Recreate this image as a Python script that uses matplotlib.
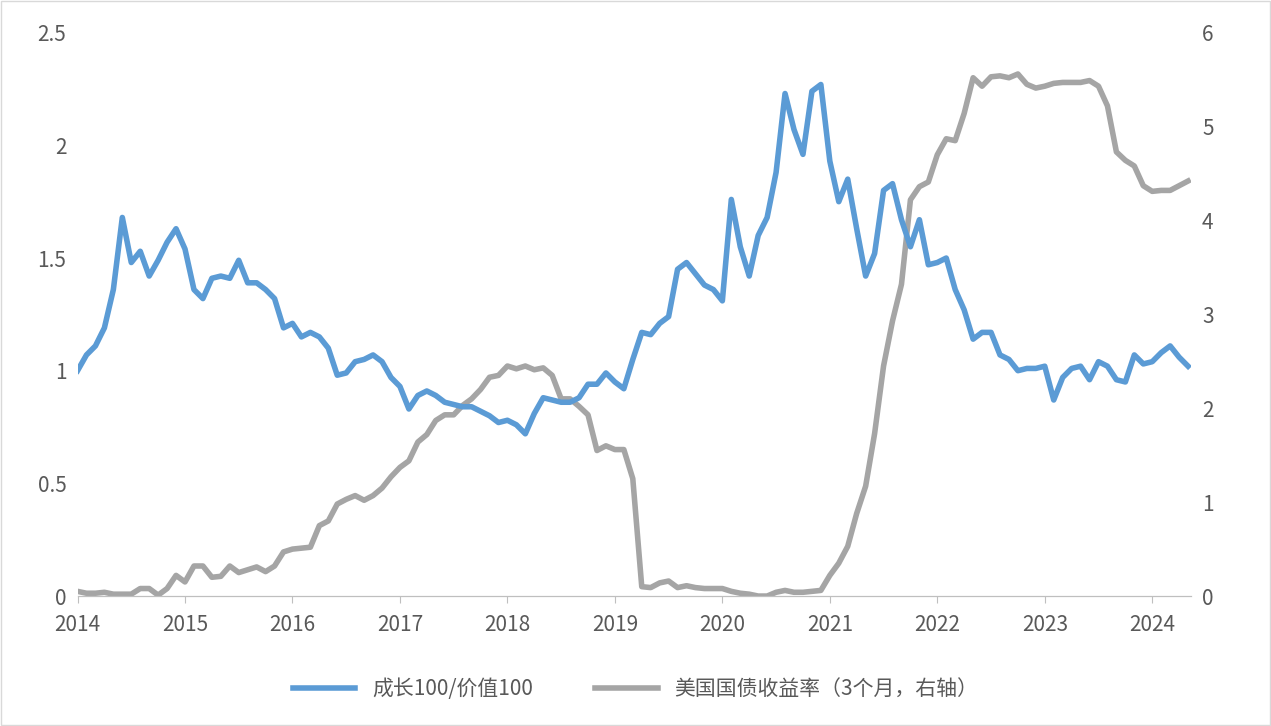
import numpy as np
import matplotlib.pyplot as plt

plt.rcParams['font.family'] = ['Noto Sans CJK SC', 'DejaVu Sans']

# growth100 / value100, monthly from Jan 2014
ratio = [1.00, 1.07, 1.11, 1.19, 1.36, 1.68, 1.48, 1.53, 1.42, 1.49, 1.57, 1.63,
         1.54, 1.36, 1.32, 1.41, 1.42, 1.41, 1.49, 1.39, 1.39, 1.36, 1.32, 1.19,
         1.21, 1.15, 1.17, 1.15, 1.10, 0.98, 0.99, 1.04, 1.05, 1.07, 1.04, 0.97,
         0.93, 0.83, 0.89, 0.91, 0.89, 0.86, 0.85, 0.84, 0.84, 0.82, 0.80, 0.77,
         0.78, 0.76, 0.72, 0.81, 0.88, 0.87, 0.86, 0.86, 0.88, 0.94, 0.94, 0.99,
         0.95, 0.92, 1.05, 1.17, 1.16, 1.21, 1.24, 1.45, 1.48, 1.43, 1.38, 1.36,
         1.31, 1.76, 1.55, 1.42, 1.60, 1.68, 1.88, 2.23, 2.07, 1.96, 2.24, 2.27,
         1.93, 1.75, 1.85, 1.63, 1.42, 1.52, 1.80, 1.83, 1.67, 1.55, 1.67, 1.47,
         1.48, 1.50, 1.36, 1.27, 1.14, 1.17, 1.17, 1.07, 1.05, 1.00, 1.01, 1.01,
         1.02, 0.87, 0.97, 1.01, 1.02, 0.96, 1.04, 1.02, 0.96, 0.95, 1.07, 1.03,
         1.04, 1.08, 1.11, 1.06, 1.02, 0.99, 1.10, 1.10]

# US 3M treasury yield, %, right axis
tbill = [0.05, 0.03, 0.03, 0.04, 0.02, 0.02, 0.02, 0.08, 0.08, 0.01, 0.08, 0.22,
         0.15, 0.32, 0.32, 0.20, 0.21, 0.32, 0.25, 0.28, 0.31, 0.26, 0.32, 0.47,
         0.50, 0.51, 0.52, 0.75, 0.80, 0.98, 1.03, 1.07, 1.02, 1.07, 1.15, 1.27,
         1.37, 1.44, 1.64, 1.72, 1.87, 1.93, 1.93, 2.03, 2.10, 2.20, 2.33, 2.35,
         2.45, 2.42, 2.45, 2.41, 2.43, 2.35, 2.10, 2.10, 2.02, 1.93, 1.55, 1.60,
         1.56, 1.56, 1.25, 0.10, 0.09, 0.14, 0.16, 0.09, 0.11, 0.09, 0.08, 0.08,
         0.08, 0.05, 0.03, 0.02, 0.00, 0.00, 0.04, 0.06, 0.04, 0.04, 0.05, 0.06,
         0.22, 0.35, 0.53, 0.88, 1.17, 1.73, 2.45, 2.93, 3.32, 4.22, 4.36, 4.41,
         4.70, 4.87, 4.85, 5.14, 5.52, 5.43, 5.53, 5.54, 5.52, 5.56, 5.45, 5.41,
         5.43, 5.46, 5.47, 5.47, 5.47, 5.49, 5.43, 5.22, 4.73, 4.64, 4.58, 4.37,
         4.31, 4.32, 4.32, 4.37, 4.42]

years = list(range(2014, 2025))
x1 = 2014 + np.arange(len(ratio)) / 12
x2 = 2014 + np.arange(len(tbill)) / 12

tick_c = '#595959'
fig = plt.figure(figsize=(12.71, 7.26), dpi=100)
ax = fig.add_axes([0.061, 0.179, 0.876, 0.776])
ax2 = ax.twinx()

l1, = ax.plot(x1[:125], ratio[:125], color='#5B9BD5', lw=4, label='成长100/价值100', zorder=3)
l2, = ax2.plot(x2, tbill, color='#A5A5A5', lw=4, label='美国国债收益率（3个月，右轴）')
ax.set_zorder(ax2.get_zorder() + 1)
ax.patch.set_visible(False)

ax.set_xlim(2014, 2014 + 10.36)
ax.set_ylim(0, 2.5)
ax2.set_ylim(0, 6)
ax.set_xticks(years)
ax.set_yticks([0, 0.5, 1, 1.5, 2, 2.5])
ax.set_yticklabels(['0', '0.5', '1', '1.5', '2', '2.5'])
ax2.set_yticks(range(7))

for a in (ax, ax2):
    for s in ('top', 'left', 'right'):
        a.spines[s].set_visible(False)
    a.spines['bottom'].set_color('#BFBFBF')
    a.tick_params(labelsize=15, colors=tick_c, length=0, pad=8)
ax.tick_params(axis='x', length=5, direction='out', color='#BFBFBF')

fig.legend(handles=[l1, l2], loc='lower center', bbox_to_anchor=(0.5, 0.01),
           ncol=2, frameon=False, fontsize=15, labelcolor=tick_c,
           handlelength=3, columnspacing=3)
fig.patches.append(plt.Rectangle((0.001, 0.001), 0.998, 0.998, transform=fig.transFigure,
                                 fill=False, edgecolor='#D9D9D9', lw=1))
fig.savefig('out.png', dpi=100)
